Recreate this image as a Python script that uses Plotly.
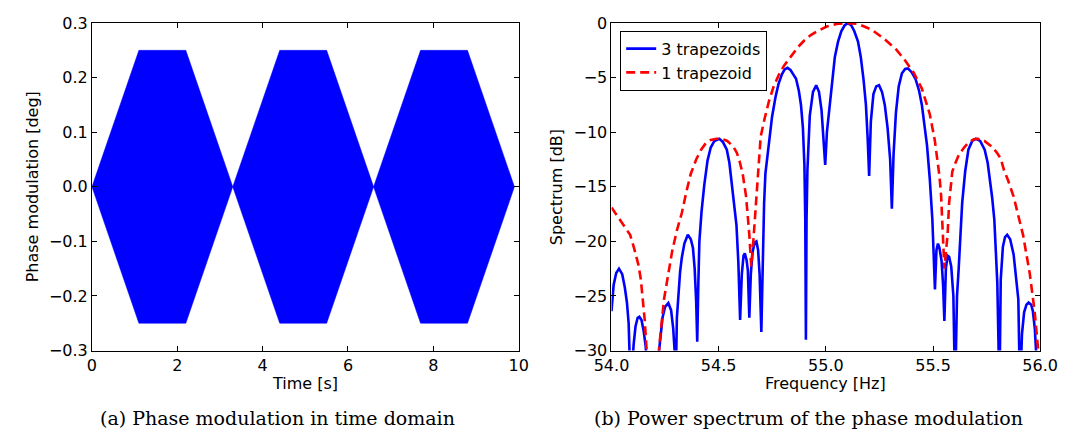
import plotly.graph_objects as go

# ---- (a) phase modulation: trapezoidal envelope of the fast carrier ----
time_knots = [0.0, 1.1, 2.2, 3.3, 4.4, 5.5, 6.6, 7.7, 8.8, 9.9]
envelope_deg = [0.0, 0.25, 0.25, 0.0, 0.25, 0.25, 0.0, 0.25, 0.25, 0.0]

# ---- (b) power spectrum, 3 trapezoids ----
freq_3 = [
    54.000, 54.010, 54.022, 54.035, 54.050, 54.062, 54.072, 54.080, 54.090,
    54.103, 54.112, 54.122, 54.130, 54.140, 54.150, 54.160, 54.170,
    54.205, 54.222, 54.238, 54.250, 54.265, 54.278, 54.288, 54.296, 54.299,
    54.305, 54.313, 54.320, 54.328, 54.340, 54.356, 54.370, 54.380, 54.388, 54.395, 54.400,
    54.405, 54.410, 54.420, 54.433, 54.448, 54.463, 54.480, 54.503, 54.520, 54.538, 54.550, 54.560, 54.570, 54.583, 54.592, 54.600,
    54.608, 54.616, 54.622, 54.630, 54.636, 54.643,
    54.650, 54.658, 54.668, 54.676, 54.684, 54.691, 54.699,
    54.705, 54.712, 54.718, 54.733, 54.749, 54.765, 54.779, 54.795, 54.808, 54.821, 54.835, 54.848, 54.861, 54.874, 54.884, 54.893, 54.900, 54.904, 54.907,
    54.910, 54.914, 54.925, 54.940, 54.955, 54.968, 54.980, 54.990, 54.997,
    55.005, 55.019, 55.030, 55.042, 55.057, 55.072, 55.088, 55.103, 55.118, 55.133, 55.150, 55.163, 55.176, 55.187, 55.195, 55.202,
    55.210, 55.222, 55.235, 55.248, 55.262, 55.275, 55.288, 55.300, 55.308,
    55.316, 55.327, 55.340, 55.355, 55.370, 55.383, 55.400, 55.418, 55.435, 55.448, 55.460, 55.472, 55.485, 55.497, 55.509,
    55.516, 55.523, 55.530, 55.540, 55.547, 55.553,
    55.560, 55.568, 55.575, 55.585, 55.595, 55.603,
    55.612, 55.620, 55.628, 55.636, 55.650, 55.665, 55.683, 55.700, 55.720, 55.741, 55.755, 55.765, 55.776, 55.786, 55.800, 55.810,
    55.816, 55.826, 55.836, 55.846, 55.860, 55.876, 55.890, 55.898, 55.906,
    55.915, 55.925, 55.936, 55.946, 55.958, 55.966, 55.975, 55.982, 55.990, 56.000,
]
spec_3 = [
    -26.4, -24.0, -22.9, -22.5, -23.0, -24.2, -25.6, -27.5, -34.0,
    -29.5, -27.8, -27.0, -26.9, -27.2, -28.2, -29.7, -34.0,
    -34.0, -30.0, -27.0, -26.0, -25.65, -26.3, -28.0, -30.5, -34.0,
    -27.0, -24.7, -22.8, -21.5, -20.2, -19.4, -19.8, -20.6, -22.5, -25.5, -29.2,
    -24.0, -20.0, -17.3, -14.8, -12.6, -11.4, -10.8, -10.6, -10.9, -11.6, -12.8, -14.5, -16.2, -18.5, -22.0, -27.2,
    -23.0, -21.3, -21.1, -21.7, -22.6, -27.0,
    -23.0, -21.0, -20.1, -20.0, -20.8, -23.0, -28.3,
    -21.0, -16.5, -13.8, -11.0, -8.6, -6.8, -5.6, -4.7, -4.25, -4.1, -4.3, -4.7, -5.1, -6.2, -7.5, -9.6, -13.0, -18.0, -29.0,
    -18.0, -13.5, -8.5, -6.3, -5.7, -6.3, -8.0, -10.5, -13.0,
    -10.0, -7.5, -5.2, -3.1, -1.7, -0.75, -0.2, 0.0, -0.2, -0.75, -1.7, -3.1, -5.2, -7.5, -10.5, -14.0,
    -9.0, -6.5, -5.8, -5.7, -6.3, -7.5, -9.6, -12.5, -17.0,
    -12.0, -8.2, -5.8, -4.6, -4.2, -4.15, -4.5, -5.1, -6.2, -7.5, -9.5, -11.2, -14.3, -18.0, -24.4,
    -20.8, -20.2, -20.6, -21.8, -24.0, -27.3,
    -22.5, -21.3, -21.4, -22.3, -25.0, -34.0,
    -25.0, -22.4, -19.0, -16.5, -13.6, -11.6, -10.8, -10.6, -10.8, -11.6, -12.8, -14.3, -16.0, -18.0, -23.8, -34.0,
    -23.5, -20.5, -19.6, -19.4, -19.8, -21.2, -23.5, -25.3, -34.0,
    -28.5, -26.5, -25.8, -25.6, -25.8, -26.4, -28.0, -30.5, -34.0, -34.0,
]

# ---- (b) power spectrum, 1 trapezoid ----
freq_1 = [
    54.000, 54.045, 54.087, 54.105, 54.125, 54.137, 54.147, 54.155, 54.162, 54.180, 54.200, 54.215,
    54.222, 54.245, 54.265, 54.283, 54.305, 54.328, 54.350, 54.370, 54.395, 54.418, 54.440, 54.463,
    54.490, 54.515, 54.540, 54.568, 54.585, 54.598, 54.612, 54.628, 54.643, 54.652,
    54.662, 54.673, 54.682, 54.696, 54.715, 54.734, 54.755, 54.779, 54.805, 54.839, 54.870, 54.899,
    54.930, 54.959, 55.004, 55.050, 55.100, 55.150, 55.214, 55.275, 55.327, 55.365, 55.410, 55.448,
    55.485, 55.508, 55.520, 55.530, 55.538, 55.545, 55.553,
    55.562, 55.568, 55.575, 55.590, 55.605, 55.620, 55.645, 55.665, 55.690, 55.710, 55.740, 55.770,
    55.795, 55.816, 55.830, 55.850, 55.876, 55.900, 55.920, 55.951, 55.974, 55.989, 56.000,
]
spec_1 = [
    -16.9, -18.2, -19.4, -20.6, -22.1, -23.5, -25.3, -27.2, -29.4, -36.0, -40.0, -34.0,
    -29.8, -25.3, -22.9, -20.9, -19.0, -17.4, -15.4, -13.8, -12.5, -11.6, -11.0, -10.7,
    -10.6, -10.6, -10.8, -11.3, -11.9, -12.7, -13.8, -15.9, -19.4, -22.3,
    -19.9, -16.5, -13.8, -10.4, -8.7, -7.2, -5.9, -4.8, -3.9, -3.0, -2.2, -1.6,
    -1.1, -0.75, -0.32, -0.08, 0.0, -0.08, -0.6, -1.5, -2.4, -3.3, -4.55, -6.0,
    -8.35, -10.7, -12.3, -14.0, -15.9, -18.9, -22.5,
    -20.6, -19.4, -16.5, -13.6, -12.8, -12.1, -11.4, -10.97, -10.65, -10.6, -10.8, -11.26,
    -11.8, -12.4, -13.4, -14.4, -15.9, -17.7, -19.4, -22.9, -26.4, -29.6, -32.0,
]

W, H = 1078, 439
BLUE = "#0000ff"
RED = "#ff0000"
FONT = "DejaVu Sans"
SERIF = "DejaVu Serif"


def px(x):
    return x / W


def py(y):
    return 1 - y / H


# plot frames (pixel edges of each axes box)
L_LEFT, L_RIGHT = 76.5, 518.0
R_LEFT, R_RIGHT = 614.0, 1057.5
TOP, BOTTOM = 14.7, 357.0

fig = go.Figure()

# filled envelope of the oscillating phase signal
fig.add_trace(go.Scatter(
    x=time_knots + time_knots[::-1],
    y=envelope_deg + [-v for v in envelope_deg[::-1]],
    fill="toself", fillcolor=BLUE, mode="lines",
    line=dict(color=BLUE, width=0.5),
    xaxis="x", yaxis="y", showlegend=False, hoverinfo="skip",
))

fig.add_trace(go.Scatter(
    x=freq_3, y=spec_3, mode="lines", name="3 trapezoids",
    line=dict(color=BLUE, width=2.6),
    xaxis="x2", yaxis="y2",
))
fig.add_trace(go.Scatter(
    x=freq_1, y=spec_1, mode="lines", name="1 trapezoid",
    line=dict(color=RED, width=2.6, dash="9px,5px"),
    xaxis="x2", yaxis="y2",
))

axis_common = dict(
    showline=True, linecolor="black", linewidth=1, mirror="ticks",
    ticks="inside", ticklen=5, tickwidth=1, tickcolor="black",
    showgrid=False, zeroline=False,
    tickfont=dict(family=FONT, size=16, color="black"),
)

fig.update_layout(
    width=W, height=H,
    margin=dict(l=0, r=0, t=0, b=0),
    paper_bgcolor="white", plot_bgcolor="white",
    font=dict(family=FONT, size=16, color="black"),
    xaxis=dict(domain=[px(L_LEFT), px(L_RIGHT)], range=[0, 10],
               tickvals=[0, 2, 4, 6, 8, 10], anchor="y", **axis_common),
    yaxis=dict(domain=[py(BOTTOM), py(TOP)], range=[-0.3, 0.3],
               tickvals=[-0.3, -0.2, -0.1, 0.0, 0.1, 0.2, 0.3], tickformat=".1f",
               anchor="x", **axis_common),
    xaxis2=dict(domain=[px(R_LEFT), px(R_RIGHT)], range=[54, 56],
                tickvals=[54.0, 54.5, 55.0, 55.5, 56.0], tickformat=".1f",
                anchor="y2", **axis_common),
    yaxis2=dict(domain=[py(BOTTOM), py(TOP)], range=[-30, 0],
                tickvals=[-30, -25, -20, -15, -10, -5, 0],
                anchor="x2", **axis_common),
    legend=dict(
        x=px(623), y=py(22.7), xanchor="left", yanchor="top",
        bgcolor="white", bordercolor="black", borderwidth=1,
        font=dict(family=FONT, size=16, color="black"),
        tracegroupgap=0,
    ),
)

annotations = [
    dict(text="Time [s]", x=px((L_LEFT + L_RIGHT) / 2), y=py(391)),
    dict(text="Frequency [Hz]", x=px((R_LEFT + R_RIGHT) / 2), y=py(391)),
    dict(text="Phase modulation [deg]", x=px(15), y=py((TOP + BOTTOM) / 2), textangle=-90),
    dict(text="Spectrum [dB]", x=px(557), y=py((TOP + BOTTOM) / 2), textangle=-90),
]
for a in annotations:
    fig.add_annotation(xref="paper", yref="paper", showarrow=False,
                       xanchor="center", yanchor="middle",
                       font=dict(family=FONT, size=16, color="black"), **a)

captions = [
    ("(a) Phase modulation in time domain", 268),
    ("(b) Power spectrum of the phase modulation", 818),
]
for text, cx in captions:
    fig.add_annotation(text=text, xref="paper", yref="paper", showarrow=False,
                       x=px(cx), y=py(427), xanchor="center", yanchor="middle",
                       font=dict(family=SERIF, size=19, color="black"))

fig.write_html("out.html")
